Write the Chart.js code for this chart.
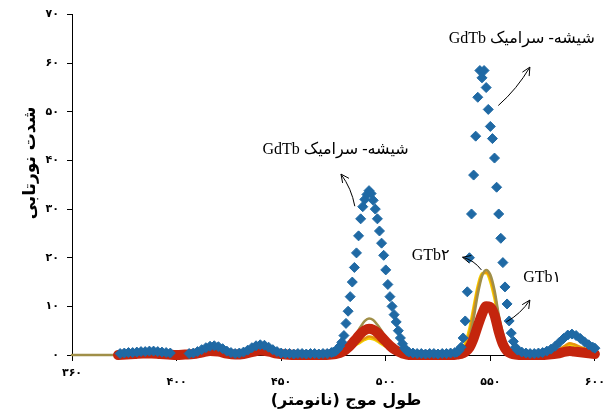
<!DOCTYPE html>
<html lang="fa">
<head>
<meta charset="UTF-8">
<title>طیف نورتابی</title>
<style>
  body { margin: 0; background: #fff; }
  canvas { display: block; }
</style>
</head>
<body>
<canvas id="chart" width="612" height="418"></canvas>

<script src="https://cdn.jsdelivr.net/npm/chart.js@4.4.0/dist/chart.umd.min.js"></script>
<script>
// --- data ---
var X_TICKS = [350, 400, 450, 500, 550, 600];
var X_TICK_LABELS = ['۳۶۰', '۴۰۰', '۴۵۰', '۵۰۰', '۵۵۰', '۶۰۰'];
var Y_TICKS = [0, 10, 20, 30, 40, 50, 60, 70];
var Y_TICK_LABELS = ['۰', '۱۰', '۲۰', '۳۰', '۴۰', '۵۰', '۶۰', '۷۰'];
var X_TITLE = 'طول موج (نانومتر)';
var Y_TITLE = 'شدت نورتابی';

// GdTb glass-ceramic (diamond markers)
var BLUE_NM = [
  373, 375, 377, 379, 381, 383, 385, 387, 389, 391, 393, 395, 397,
  406, 408, 410, 412, 414, 416, 418, 420, 422, 424, 426, 428, 430, 432, 434, 436, 438, 440,
  442, 444, 446, 448, 450, 452, 454, 456, 458, 460, 462, 464, 466, 468, 470, 472, 474,
  475, 476, 477, 478, 479, 480, 481, 482, 483, 484, 485, 486, 487, 488, 489, 490, 491, 492,
  493, 494, 495, 496, 497, 498, 499, 500, 501, 502, 503, 504, 505, 506, 507, 508, 509, 510, 511,
  513, 515, 517, 519, 521, 523, 525, 527, 529, 531, 533,
  534, 535, 536, 537, 538, 539, 540, 541, 542, 543, 544, 545, 546, 547, 548, 549, 550, 551,
  552, 553, 554, 555, 556, 557, 558, 559, 560, 561, 562, 563,
  565, 567, 569, 571, 573, 575, 577,
  579, 581, 583, 585, 587, 589, 591, 593, 595, 597, 599, 600
];
var GDTB = [
  0.3, 0.4, 0.5, 0.5, 0.6, 0.7, 0.7, 0.8, 0.8, 0.7, 0.6, 0.5, 0.4,
  0.3, 0.4, 0.7, 1.1, 1.5, 1.8, 1.9, 1.7, 1.3, 0.8, 0.5, 0.3, 0.4, 0.6, 1.0, 1.5, 1.9, 2.1,
  2.0, 1.6, 1.1, 0.7, 0.4, 0.3, 0.3, 0.2, 0.3, 0.3, 0.2, 0.3, 0.3, 0.2, 0.3, 0.3, 0.5,
  0.6, 0.8, 1.2, 1.8, 2.6, 4, 6.5, 9, 12, 15, 18, 21, 24.5, 28, 30.5, 32, 33, 33.8,
  33.2, 31.8, 30, 28, 25.5, 23, 20.5, 17.5, 14.5, 12, 10, 8.3, 6.8, 5, 3.5, 2.3, 1.4, 0.9, 0.6,
  0.4, 0.3, 0.3, 0.2, 0.3, 0.3, 0.2, 0.3, 0.3, 0.4, 0.5,
  0.6, 0.9, 1.6, 3.5, 7, 13, 20, 29, 37, 45, 53, 58.5, 57, 58.5, 55, 50.5, 47, 44.5,
  40.5, 34.5, 29, 24, 19, 14, 10.5, 7, 4.5, 2.8, 1.6, 1.0,
  0.6, 0.4, 0.3, 0.3, 0.4, 0.5, 0.8,
  1.2, 1.8, 2.6, 3.4, 4.1, 4.3, 4.0, 3.4, 2.7, 2.1, 1.6, 1.4
];

// line samples
var LINE_NM = [
  350, 372, 376, 380, 384, 388, 392, 396, 400, 404,
  408, 412, 416, 420, 424, 428, 432, 436, 440, 444,
  448, 452, 458, 464, 470, 474, 476, 478, 480, 482,
  484, 486, 488, 490, 492, 494, 496, 498, 500, 502,
  504, 506, 508, 510, 512, 516, 522, 528, 532, 534,
  536, 538, 540, 542, 544, 546, 548, 550, 552, 554,
  556, 558, 560, 562, 566, 570, 574, 578, 582, 586,
  588, 590, 594, 598, 600
];
var GTB1 = [
  null, 0, 0.1, 0.2, 0.3, 0.3, 0.2, 0.1, 0, 0.1,
  0.2, 0.5, 0.8, 0.7, 0.3, 0.1, 0.2, 0.6, 0.9, 0.7,
  0.3, 0.1, 0, 0, 0, 0.1, 0.2, 0.4, 0.8, 1.5,
  2.4, 3.4, 4.4, 5.1, 5.4, 5.2, 4.6, 3.7, 2.8, 1.9,
  1.2, 0.7, 0.3, 0.1, 0, 0, 0, 0, 0, 0.1,
  0.2, 0.6, 1.5, 3.4, 6, 8.4, 10, 9.9, 8.2, 4.8,
  2.2, 0.8, 0.3, 0.1, 0, 0, 0, 0.1, 0.3, 0.7,
  0.8, 0.7, 0.5, 0.3, 0.2
];
var GTB2 = [
  0, 0, 0.1, 0.2, 0.3, 0.3, 0.2, 0.1, 0, 0.1,
  0.2, 0.4, 0.6, 0.5, 0.3, 0.1, 0.2, 0.5, 0.7, 0.5,
  0.3, 0.1, 0.1, 0.1, 0.1, 0.1, 0.2, 0.4, 0.9, 1.8,
  3, 4.4, 5.8, 7, 7.5, 7.2, 6.2, 5, 3.7, 2.5,
  1.5, 0.8, 0.4, 0.2, 0.1, 0.1, 0.1, 0.1, 0.1, 0.2,
  0.4, 1, 3.2, 7.5, 12.5, 16.2, 17.5, 16.5, 13.3, 8.3,
  4.5, 1.8, 0.7, 0.3, 0.1, 0.1, 0.1, 0.2, 0.5, 1.1,
  1.2, 1.1, 0.8, 0.5, 0.4
];
var ORANGE = [
  null, 0.2, 0.3, 0.4, 0.4, 0.4, 0.3, 0.2, 0.1, 0.2,
  0.3, 0.5, 0.7, 0.6, 0.4, 0.2, 0.3, 0.6, 0.8, 0.6,
  0.4, 0.2, 0.1, 0.1, 0.1, 0.2, 0.4, 0.7, 1.0, 1.4,
  1.8, 2.3, 2.9, 3.4, 3.8, 3.6, 3.1, 2.5, 2.0, 1.5,
  1.0, 0.6, 0.3, 0.1, 0, 0, 0, 0, 0.1, 0.3,
  0.6, 1.8, 4.5, 9, 13.5, 16.5, 17, 15.8, 12.5, 7.8,
  4, 1.6, 0.6, 0.2, 0.1, 0.1, 0.1, 0.2, 0.9, 2.0,
  2.4, 2.2, 1.5, 1.0, 0.8
];
var YELLOW = [
  null, 0.1, 0.2, 0.3, 0.3, 0.3, 0.2, 0.1, 0, 0.1,
  0.2, 0.4, 0.6, 0.5, 0.3, 0.1, 0.2, 0.5, 0.7, 0.5,
  0.3, 0.1, 0, 0, 0, 0.1, 0.3, 0.6, 0.9, 1.2,
  1.6, 2.1, 2.6, 3.1, 3.4, 3.2, 2.8, 2.2, 1.7, 1.2,
  0.8, 0.5, 0.2, 0.1, 0, 0, 0, 0, 0.1, 0.4,
  1, 2.5, 5.5, 10, 14.3, 16.8, 16.8, 15, 11.5, 7,
  3.5, 1.3, 0.5, 0.2, 0.1, 0, 0, 0.2, 0.8, 1.8,
  2.1, 1.9, 1.3, 0.8, 0.6
];

// hand-written labels and arrows (data units)
var NOTE_TEXT = ['شیشه- سرامیک GdTb', 'شیشه- سرامیک GdTb', 'GTb۲', 'GTb۱'];
var NOTE_AT = [[476, 42.3], [565, 65.1], [521.5, 20.3], [574.8, 15.8]];
var ARROWS = [
  [485.2, 30.6, 478.6, 37.2],
  [553.8, 51.3, 568.9, 59.2],
  [545.7, 17.5, 536.7, 20.1],
  [557.6, 6.8, 568.9, 11.3]
];

function pts(xs, ys) {
  return xs.map(function (x, i) { return { x: x, y: ys[i] }; });
}

function lineSet(label, ys, color, width, order) {
  return {
    label: label,
    data: pts(LINE_NM, ys),
    borderColor: color,
    borderWidth: width,
    pointRadius: 0,
    cubicInterpolationMode: 'monotone',
    borderJoinStyle: 'round',
    borderCapStyle: 'round',
    fill: false,
    clip: false,
    order: order
  };
}

function arrow(c, x0, y0, x1, y1) {
  var mx = (x0 + x1) / 2, my = (y0 + y1) / 2;
  var dx = x1 - x0, dy = y1 - y0, len = Math.sqrt(dx * dx + dy * dy);
  var cx = mx - dy / len * 4, cy = my + dx / len * 4;
  c.beginPath();
  c.moveTo(x0, y0);
  c.quadraticCurveTo(cx, cy, x1, y1);
  c.stroke();
  var a = Math.atan2(y1 - cy, x1 - cx);
  c.beginPath();
  c.moveTo(x1 - 9 * Math.cos(a - 0.45), y1 - 9 * Math.sin(a - 0.45));
  c.lineTo(x1, y1);
  c.lineTo(x1 - 9 * Math.cos(a + 0.45), y1 - 9 * Math.sin(a + 0.45));
  c.stroke();
}

var notes = {
  id: 'notes',
  afterDraw: function (chart) {
    var c = chart.ctx, xs = chart.scales.x, ys = chart.scales.y;
    c.save();
    c.fillStyle = '#000';
    c.strokeStyle = '#000';
    c.lineWidth = 1;
    c.textAlign = 'center';
    c.textBaseline = 'middle';

    c.direction = 'rtl';
    c.font = 'bold 16px "DejaVu Sans"';
    c.fillText(X_TITLE, 346, 401);
    c.save();
    c.translate(31, 163);
    c.rotate(-Math.PI / 2);
    c.font = 'bold 17px "DejaVu Sans"';
    c.fillText(Y_TITLE, 0, 0);
    c.restore();

    NOTE_TEXT.forEach(function (t, i) {
      c.direction = i < 2 ? 'rtl' : 'ltr';
      c.font = '16px "Liberation Serif", "DejaVu Sans", serif';
      c.fillText(t, xs.getPixelForValue(NOTE_AT[i][0]), ys.getPixelForValue(NOTE_AT[i][1]));
    });
    ARROWS.forEach(function (a) {
      arrow(c, xs.getPixelForValue(a[0]), ys.getPixelForValue(a[1]),
        xs.getPixelForValue(a[2]), ys.getPixelForValue(a[3]));
    });
    c.restore();
  }
};

var ctx = document.getElementById('chart').getContext('2d');
new Chart(ctx, {
  type: 'line',
  data: {
    datasets: [
      {
        label: 'GdTb',
        data: pts(BLUE_NM, GDTB),
        showLine: false,
        pointStyle: 'rectRot',
        pointRadius: 5,
        pointBorderWidth: 1,
        pointBackgroundColor: '#1f69a4',
        pointBorderColor: '#1f69a4',
        clip: false,
        order: 0
      },
      lineSet('GTb1', GTB1, '#c4250d', 10, 1),
      lineSet('GTb2', GTB2, '#a08f48', 2.5, 2),
      lineSet('orange', ORANGE, '#e8960c', 2.5, 3),
      lineSet('yellow', YELLOW, '#f2d000', 2.5, 4)
    ]
  },
  options: {
    responsive: false,
    animation: false,
    layout: { padding: { top: 14, right: 14, bottom: 0, left: 0 } },
    plugins: {
      legend: { display: false },
      tooltip: { enabled: false }
    },
    scales: {
      x: {
        type: 'linear',
        min: 350,
        max: 600,
        afterFit: function (s) { s.height = 63; },
        grid: { drawOnChartArea: false, tickLength: 6, color: '#000' },
        border: { color: '#000', width: 1 },
        ticks: {
          stepSize: 50,
          maxRotation: 0,
          autoSkip: false,
          padding: 7,
          color: '#000',
          font: { family: 'DejaVu Sans', size: 11, weight: 'bold', lineHeight: 0.85 },
          callback: function (v) {
            var i = X_TICKS.indexOf(v);
            if (i < 0) return '';
            return i === 0 ? X_TICK_LABELS[i] : ['', X_TICK_LABELS[i]];
          }
        }
      },
      y: {
        min: 0,
        max: 70,
        afterFit: function (s) { s.width = 72; },
        grid: { drawOnChartArea: false, tickLength: 5, color: '#000' },
        border: { color: '#000', width: 1 },
        ticks: {
          stepSize: 10,
          padding: 8,
          color: '#000',
          font: { family: 'DejaVu Sans', size: 11, weight: 'bold' },
          callback: function (v) {
            var i = Y_TICKS.indexOf(v);
            return i < 0 ? '' : Y_TICK_LABELS[i];
          }
        }
      }
    }
  },
  plugins: [notes]
});
</script>
</body>
</html>
